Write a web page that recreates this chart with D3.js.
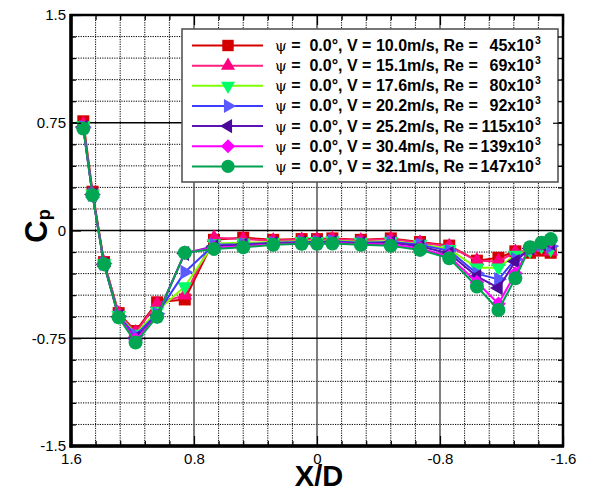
<!DOCTYPE html>
<html><head><meta charset="utf-8">
<script src="https://cdn.jsdelivr.net/npm/d3@7"></script>
<style>
body{margin:0;background:#fff}
svg{display:block;font-family:"Liberation Sans",Arial,sans-serif}
</style>
</head><body>
<svg id="chart" width="589" height="491"></svg>
<script>
// Pressure-tap stations along the surface (X/D)
const xStations = [1.52,1.46,1.385,1.29,1.18,1.04,0.86,0.67,0.48,0.285,0.10,0,-0.10,-0.285,-0.48,-0.67,-0.86,-1.04,-1.18,-1.29,-1.385,-1.46,-1.52];

// Pressure coefficient for each free-stream speed
const cpV10_0 = [0.76,0.27,-0.22,-0.575,-0.70,-0.50,-0.48,-0.065,-0.05,-0.065,-0.06,-0.06,-0.055,-0.065,-0.055,-0.08,-0.105,-0.21,-0.19,-0.145,-0.155,-0.14,-0.155];
const cpV15_1 = [0.74,0.26,-0.225,-0.58,-0.71,-0.51,-0.45,-0.05,-0.06,-0.07,-0.065,-0.065,-0.06,-0.07,-0.06,-0.085,-0.11,-0.21,-0.215,-0.15,-0.14,-0.12,-0.145];
const cpV17_6 = [0.73,0.255,-0.23,-0.59,-0.72,-0.56,-0.39,-0.09,-0.085,-0.08,-0.075,-0.075,-0.07,-0.08,-0.075,-0.095,-0.13,-0.26,-0.26,-0.17,-0.14,-0.11,-0.13];
const cpV20_2 = [0.72,0.25,-0.23,-0.595,-0.73,-0.58,-0.29,-0.10,-0.095,-0.085,-0.08,-0.08,-0.075,-0.085,-0.08,-0.10,-0.14,-0.30,-0.34,-0.20,-0.13,-0.10,-0.11];
const cpV25_2 = [0.72,0.25,-0.235,-0.60,-0.75,-0.59,-0.16,-0.11,-0.10,-0.09,-0.085,-0.085,-0.08,-0.09,-0.085,-0.11,-0.16,-0.32,-0.40,-0.215,-0.125,-0.095,-0.09];
const cpV30_4 = [0.715,0.25,-0.235,-0.60,-0.76,-0.60,-0.155,-0.12,-0.11,-0.095,-0.09,-0.09,-0.085,-0.095,-0.095,-0.125,-0.18,-0.36,-0.51,-0.30,-0.12,-0.09,-0.07];
const cpV32_1 = [0.71,0.245,-0.235,-0.605,-0.78,-0.60,-0.155,-0.128,-0.117,-0.10,-0.093,-0.093,-0.09,-0.10,-0.107,-0.135,-0.193,-0.39,-0.553,-0.333,-0.117,-0.085,-0.06];

const yawAngles = ["0.0","0.0","0.0","0.0","0.0","0.0","0.0"];
const speeds = ["10.0","15.1","17.6","20.2","25.2","30.4","32.1"];
const reynolds = ["45","69","80","92","115","139","147"];

const xTickValues = [1.6,0.8,0,-0.8,-1.6];
const xTickLabels = ["1.6","0.8","0","-0.8","-1.6"];
const yTickValues = [1.5,0.75,0,-0.75,-1.5];
const yTickLabels = ["1.5","0.75","0","-0.75","-1.5"];

// Styling per series: line colour, marker colour, marker shape
const styles = [
  {line:"#d40000", fill:"#d40000", shape:"square"},
  {line:"#ff2080", fill:"#ff0080", shape:"triUp"},
  {line:"#80ff00", fill:"#00ff66", shape:"triDown"},
  {line:"#3c3cff", fill:"#5a5aff", shape:"triRight"},
  {line:"#5a14b4", fill:"#4b0a9c", shape:"triLeft"},
  {line:"#ff00ff", fill:"#ff00ff", shape:"diamond"},
  {line:"#00a050", fill:"#00a651", shape:"circle"}
];
const seriesValues = [cpV10_0,cpV15_1,cpV17_6,cpV20_2,cpV25_2,cpV30_4,cpV32_1];

const svg = d3.select("#chart");
const L = 71, R = 563, T = 15, B = 446;
const x = d3.scaleLinear().domain([1.6,-1.6]).range([L,R]);
const y = d3.scaleLinear().domain([1.5,-1.5]).range([T,B]);

// grid
const xMinor = d3.range(21).map(i => 1.6 - i*0.16).filter((v,i)=> i%5!==0);
const yMinor = d3.range(21).map(i => 1.5 - i*0.15).filter((v,i)=> i%5!==0);
const grid = svg.append("g");
grid.selectAll(".vmin").data(xMinor).join("line")
  .attr("x1", d=>x(d)).attr("x2", d=>x(d)).attr("y1",T).attr("y2",B)
  .attr("stroke","#000").attr("stroke-width",1).attr("stroke-dasharray","1.2,1.2");
grid.selectAll(".hmin").data(yMinor).join("line")
  .attr("y1", d=>y(d)).attr("y2", d=>y(d)).attr("x1",L).attr("x2",R)
  .attr("stroke","#000").attr("stroke-width",1).attr("stroke-dasharray","1.2,1.2");
grid.selectAll(".vmaj").data(xTickValues.slice(1,4)).join("line")
  .attr("x1", d=>x(d)).attr("x2", d=>x(d)).attr("y1",T).attr("y2",B)
  .attr("stroke","#555").attr("stroke-width",1.5);
grid.selectAll(".hmaj").data(yTickValues.slice(1,4)).join("line")
  .attr("y1", d=>y(d)).attr("y2", d=>y(d)).attr("x1",L).attr("x2",R)
  .attr("stroke","#000").attr("stroke-width",1.3);

// marker shapes
function marker(sel, shape, fill, s) {
  const k = s || 1;
  let p;
  if (shape === "square") p = sel.append("rect").attr("x",-6*k).attr("y",-6*k).attr("width",12*k).attr("height",12*k);
  else if (shape === "circle") p = sel.append("circle").attr("r",7*k);
  else {
    const tri = d3.symbol().type(d3.symbolTriangle).size(95*k*k)();
    const rot = {triUp:0, triDown:180, triRight:90, triLeft:-90};
    if (shape === "diamond") p = sel.append("rect").attr("x",-5.2*k).attr("y",-5.2*k).attr("width",10.4*k).attr("height",10.4*k).attr("transform","rotate(45)");
    else p = sel.append("path").attr("d", tri).attr("transform", `rotate(${rot[shape]})`);
  }
  p.attr("fill", fill);
}

// series
const line = d3.line().x((d,i)=>x(xStations[i])).y(d=>y(d));
const plot = svg.append("g");
seriesValues.forEach((vals, si) => {
  const st = styles[si];
  const g = plot.append("g");
  g.append("path").attr("d", line(vals)).attr("fill","none")
    .attr("stroke", st.line).attr("stroke-width",2).attr("stroke-linejoin","round");
  vals.forEach((v,i) => {
    const m = g.append("g").attr("transform",`translate(${x(xStations[i])},${y(v)})`);
    marker(m, st.shape, st.fill);
  });
});

// legend
const lg = svg.append("g");
lg.append("rect").attr("x",182).attr("y",29).attr("width",376).attr("height",153)
  .attr("fill","#fff").attr("stroke","#555").attr("stroke-width",1.6);
speeds.forEach((v,i) => {
  const cy = 45.5 + i*20.15;
  const st = styles[i];
  lg.append("line").attr("x1",192).attr("x2",263).attr("y1",cy).attr("y2",cy)
    .attr("stroke",st.line).attr("stroke-width",2);
  marker(lg.append("g").attr("transform",`translate(228,${cy})`), st.shape, st.fill, 0.95);
  const t = lg.append("text").attr("x",275).attr("y",cy+5.5).attr("font-size",16)
    .attr("font-weight","bold").style("white-space","pre");
  t.append("tspan").attr("font-weight","normal").attr("font-family","'DejaVu Serif',serif").attr("font-size",15).text("\u03c8");
  t.append("tspan").text(` =  ${yawAngles[i]}\u00b0, V = ${v}m/s, Re =`);
  lg.append("text").attr("x",534).attr("y",cy+5.5).attr("font-size",16)
    .attr("font-weight","bold").attr("text-anchor","end").text(`${reynolds[i]}x10`);
  lg.append("text").attr("x",535).attr("y",cy-1.5).attr("font-size",10.5)
    .attr("font-weight","bold").text("3");
});

// axes with inward ticks
function styleAxis(g){ g.select(".domain").remove(); g.selectAll("line").attr("stroke","#000").attr("stroke-width",1.2); }
svg.append("g").attr("transform",`translate(0,${B})`)
  .call(d3.axisBottom(x).tickValues(xMinor).tickSize(-5).tickFormat(""))
  .call(styleAxis);
svg.append("g").attr("transform",`translate(0,${B})`)
  .call(d3.axisBottom(x).tickValues(xTickValues).tickSize(-10).tickPadding(7).tickFormat((d,i)=>xTickLabels[i]))
  .call(styleAxis)
  .call(g=>g.selectAll("text").attr("font-size",15).attr("fill","#000").attr("font-family","'Liberation Sans',Arial,sans-serif"));
svg.append("g").attr("transform",`translate(0,${T})`)
  .call(d3.axisTop(x).tickValues(xMinor).tickSize(-5).tickFormat("")).call(styleAxis);
svg.append("g").attr("transform",`translate(0,${T})`)
  .call(d3.axisTop(x).tickValues(xTickValues).tickSize(-10).tickFormat("")).call(styleAxis);
svg.append("g").attr("transform",`translate(${L},0)`)
  .call(d3.axisLeft(y).tickValues(yMinor).tickSize(-5).tickFormat("")).call(styleAxis);
svg.append("g").attr("transform",`translate(${L},0)`)
  .call(d3.axisLeft(y).tickValues(yTickValues).tickSize(-10).tickPadding(5).tickFormat((d,i)=>yTickLabels[i]))
  .call(styleAxis)
  .call(g=>g.selectAll("text").attr("font-size",15).attr("fill","#000").attr("font-family","'Liberation Sans',Arial,sans-serif"));
svg.append("g").attr("transform",`translate(${R},0)`)
  .call(d3.axisRight(y).tickValues(yMinor).tickSize(-5).tickFormat("")).call(styleAxis);
svg.append("g").attr("transform",`translate(${R},0)`)
  .call(d3.axisRight(y).tickValues(yTickValues).tickSize(-10).tickFormat("")).call(styleAxis);

// frame
svg.append("rect").attr("x",L).attr("y",T).attr("width",R-L).attr("height",B-T)
  .attr("fill","none").attr("stroke","#000").attr("stroke-width",2.5);
svg.append("line").attr("x1",L).attr("x2",L).attr("y1",T-1).attr("y2",B+1.5).attr("stroke","#000").attr("stroke-width",3.5);
svg.append("line").attr("x1",L-1.5).attr("x2",R+1).attr("y1",B).attr("y2",B).attr("stroke","#000").attr("stroke-width",3.5);

// axis titles
svg.append("text").attr("x",319).attr("y",486).attr("text-anchor","middle")
  .attr("font-size",29).attr("font-weight","bold").text("X/D");
const yt = svg.append("text").attr("transform","translate(47,226) rotate(-90)").attr("text-anchor","middle")
  .attr("font-size",31).attr("font-weight","bold");
yt.append("tspan").text("C");
yt.append("tspan").attr("font-size",18).attr("dy",3).text("p");
</script>
</body></html>
